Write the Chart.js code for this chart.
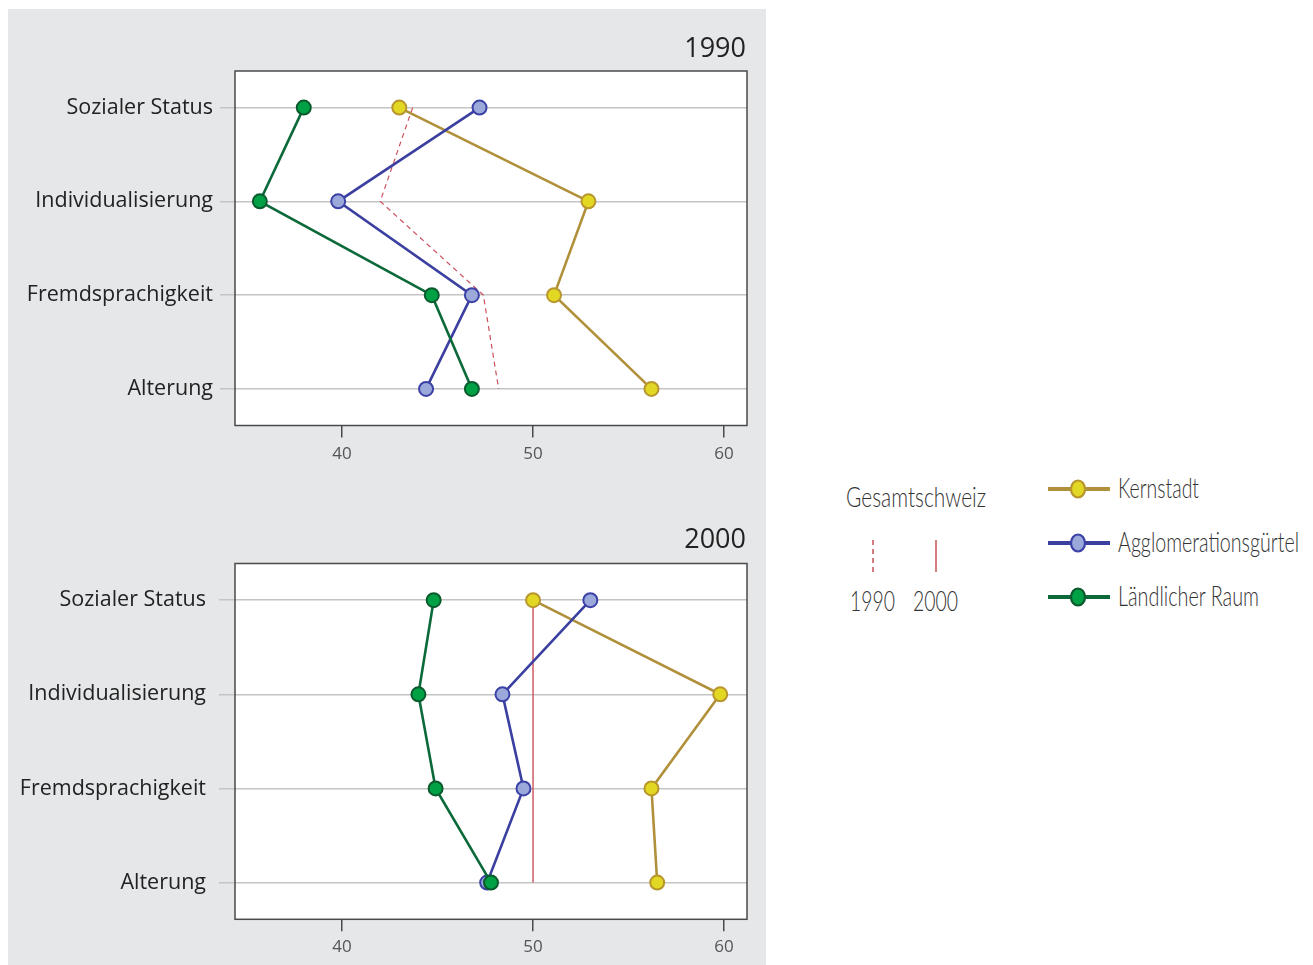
<!DOCTYPE html>
<html><head><meta charset="utf-8">
<script src="https://cdn.jsdelivr.net/npm/chart.js@4/dist/chart.umd.min.js"></script>
<style>
html,body{margin:0;padding:0;background:#fff;width:1313px;height:965px;overflow:hidden;}
#panel{position:absolute;left:8px;top:9px;width:758px;height:956px;background:#e6e7e9;}
.cv{position:absolute;left:0;}
.lt{position:absolute;font-family:Lato,"Open Sans",sans-serif;font-weight:300;font-size:27px;color:#333;white-space:nowrap;line-height:1;transform-origin:0 50%;}
svg{position:absolute;overflow:visible;}
</style></head>
<body>
<div id="panel"></div>
<div class="cv" style="top:0;width:766px;height:480px;"><canvas id="c1"></canvas></div>
<div class="cv" style="top:490px;width:766px;height:475px;"><canvas id="c2"></canvas></div>

<svg style="left:860px;top:540px;" width="90" height="34">
  <line x1="13" y1="0" x2="13" y2="32" stroke="#c9505c" stroke-width="1.5" stroke-dasharray="5,4"/>
  <line x1="76" y1="0" x2="76" y2="32" stroke="#c9505c" stroke-width="1.5"/>
</svg>
<div id="leg"></div>

<script>
const categories = ['Sozialer Status', 'Individualisierung', 'Fremdsprachigkeit', 'Alterung'];
const xTickValues = [40, 50, 60];
const seriesNames = ['Kernstadt', 'Agglomerationsgürtel', 'Ländlicher Raum'];
const gesamtLabel = 'Gesamtschweiz';
const yearLabels = ['1990', '2000'];

const kern1990  = [43.0, 52.9, 51.1, 56.2];
const agglo1990 = [47.2, 39.8, 46.8, 44.4];
const land1990  = [38.0, 35.7, 44.7, 46.8];
const ch1990    = [43.7, 42.0, 47.4, 48.2];

const kern2000  = [50.0, 59.8, 56.2, 56.5];
const agglo2000 = [53.0, 48.4, 49.5, 47.6];
const land2000  = [44.8, 44.0, 44.9, 47.8];
const ch2000    = [50.0, 50.0, 50.0, 50.0];

const styles = {
  kern:  {line:'#b0903a', fill:'#e2d824', border:'#b8962e'},
  agglo: {line:'#3b40a0', fill:'#9aa9da', border:'#3b41a6'},
  land:  {line:'#0c6a3a', fill:'#00a145', border:'#0a5a2e'},
  ch: '#c9505c'
};
const FONT = '"Open Sans", Lato, sans-serif';

function pts(vals){ return vals.map((v,i)=>({x:v,y:i})); }
function ds(vals, st){
  return {data:pts(vals), borderColor:st.line, borderWidth:2.6, pointRadius:7, pointHoverRadius:7,
    pointBackgroundColor:st.fill, pointBorderColor:st.border, pointBorderWidth:2, tension:0, fill:false};
}

function makeChart(id, year, kern, agglo, land, ch, dashed, cfg){
  const boxPlugin = {
    id:'box',
    beforeDraw(chart){
      const a = chart.chartArea, c = chart.ctx;
      c.save(); c.fillStyle='#fff'; c.fillRect(a.left,a.top,a.right-a.left,a.bottom-a.top); c.restore();
    },
    afterDraw(chart){
      const a = chart.chartArea, c = chart.ctx;
      c.save();
      c.strokeStyle='#4a4a4a'; c.lineWidth=1.5;
      c.strokeRect(a.left,a.top,a.right-a.left,a.bottom-a.top);
      c.fillStyle='#222'; c.font='27px ' + FONT;
      c.textAlign='right'; c.textBaseline='middle';
      c.fillText(year, a.right-1, a.top+cfg.titleDy);
      c.restore();
    }
  };
  return new Chart(document.getElementById(id), {
    type:'line',
    data:{datasets:[
      ds(land,styles.land), ds(agglo,styles.agglo), ds(kern,styles.kern),
      {data:pts(ch), borderColor:styles.ch, borderWidth:dashed?1.2:1.4, borderDash:dashed?[5,4]:[],
       pointRadius:0, pointHoverRadius:0, tension:0, fill:false}
    ]},
    options:{
      responsive:true, maintainAspectRatio:false, animation:false,
      layout:{padding:{left:0,right:19,top:cfg.padTop,bottom:0}},
      plugins:{legend:{display:false}, tooltip:{enabled:false}},
      scales:{
        x:{type:'linear', min:34.4, max:61.2,
          afterBuildTicks(s){ s.ticks = xTickValues.map(v=>({value:v})); },
          afterFit(s){ s.height = cfg.xH; },
          grid:{drawOnChartArea:false, drawTicks:true, tickLength:12, color:'#4a4a4a', lineWidth:1.5},
          border:{display:false},
          ticks:{color:'#555', font:{size:17, family:FONT}, padding:6}
        },
        y:{type:'linear', reverse:true, min:-0.39, max:3.39,
          afterBuildTicks(s){ s.ticks = categories.map((c,i)=>({value:i})); },
          afterFit(s){ s.width = 235; },
          grid:{color:'#c4c4c4', lineWidth:1.5, drawTicks:true, tickLength:cfg.tickLen},
          border:{display:false},
          ticks:{color:'#222', font:{size:21.5, family:FONT}, padding:cfg.yPad,
            callback:(v)=>categories[v]}
        }
      }
    },
    plugins:[boxPlugin]
  });
}

makeChart('c1','1990',kern1990,agglo1990,land1990,ch1990,true,{padTop:71,xH:54.5,titleDy:-22,tickLen:15,yPad:7});
makeChart('c2','2000',kern2000,agglo2000,land2000,ch2000,false,{padTop:73.5,xH:45.7,titleDy:-23.5,tickLen:16,yPad:13});

// legend texts: [text, left, centerY, targetWidth]
const leg = document.getElementById('leg');
const texts = [
  [gesamtLabel, 846, 496, 140],
  [yearLabels[0], 850, 600, 45],
  [yearLabels[1], 913, 600, 45],
  [seriesNames[0], 1118, 487, 81],
  [seriesNames[1], 1118, 541, 181],
  [seriesNames[2], 1118, 595, 141]
];
const legYs = [489, 543, 597];
const legStyles = [styles.kern, styles.agglo, styles.land];
legStyles.forEach((st,i)=>{
  leg.insertAdjacentHTML('beforeend',
    `<svg style="left:1046px;top:${legYs[i]-10}px;" width="66" height="20">
      <line x1="2" y1="10" x2="64" y2="10" stroke="${st.line}" stroke-width="4"/>
      <ellipse cx="32" cy="10" rx="7" ry="8.5" fill="${st.fill}" stroke="${st.border}" stroke-width="2.2"/>
    </svg>`);
});
texts.forEach(([t,l,y,w])=>{
  const d = document.createElement('div');
  d.className='lt'; d.textContent=t;
  d.style.left=l+'px'; d.style.top=y+'px';
  leg.appendChild(d);
  const nat = d.getBoundingClientRect().width;
  d.style.transform = `translateY(-50%) scaleX(${w/nat})`;
});
</script>
</body></html>
